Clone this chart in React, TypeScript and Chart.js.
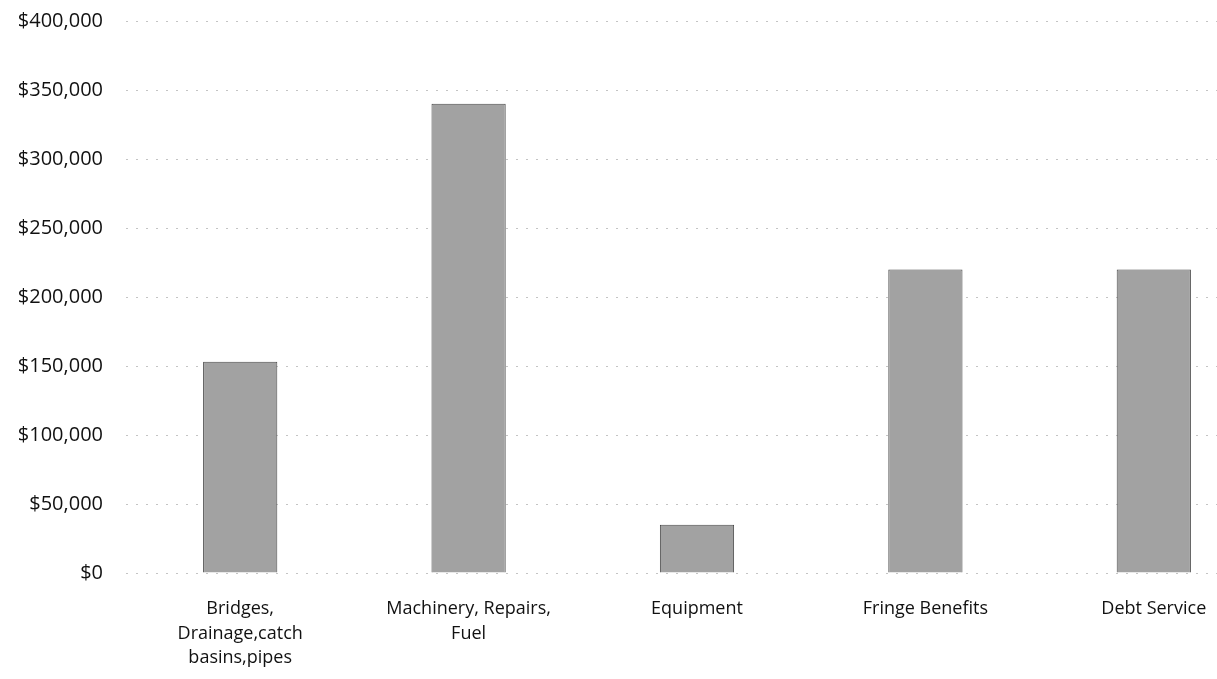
import React, { useEffect, useRef } from "react";
import { Chart, registerables } from "chart.js";

Chart.register(...registerables);

const categories: (string | string[])[] = [
  ["Bridges,", "Drainage,catch", "basins,pipes"],
  ["Machinery, Repairs,", "Fuel"],
  "Equipment",
  "Fringe Benefits",
  "Debt Service",
];

const amounts: number[] = [153000, 340000, 35000, 220000, 220000];

const yMin = 0;
const yMax = 400000;
const yStep = 50000;

export default function App() {
  const ref = useRef<HTMLCanvasElement | null>(null);

  useEffect(() => {
    if (!ref.current) return;
    const chart = new Chart(ref.current, {
      type: "bar",
      data: {
        labels: categories,
        datasets: [
          {
            data: amounts,
            backgroundColor: "#a2a2a2",
            borderColor: "#4a4a4a",
            borderWidth: 1,
            barPercentage: 0.325,
            categoryPercentage: 1,
          },
        ],
      },
      options: {
        responsive: false,
        animation: false,
        layout: { padding: { top: 7, right: 32, left: 0, bottom: 0 } },
        plugins: { legend: { display: false }, tooltip: { enabled: false } },
        scales: {
          x: {
            border: { display: false },
            grid: { display: false, drawTicks: false },
            ticks: {
              color: "#111",
              padding: 24,
              maxRotation: 0,
              autoSkip: false,
              font: { family: "Open Sans", size: 18, lineHeight: 24.5 / 18 },
            },
            afterFit: (s: any) => {
              s.height = 106;
            },
          },
          y: {
            min: yMin,
            max: yMax,
            border: { display: false, dash: [2, 8] },
            grid: {
              color: "#c4c4c4",
              lineWidth: 1,
              drawTicks: false,
            },
            ticks: {
              stepSize: yStep,
              color: "#111",
              padding: 23,
              font: { family: "Open Sans", size: 20 },
              callback: (v: any) => "$" + Number(v).toLocaleString("en-US"),
            },
            afterFit: (s: any) => {
              s.width = 126;
            },
          },
        },
      },
    });
    return () => chart.destroy();
  }, []);

  return (
    <div
      style={{
        position: "fixed",
        left: 0,
        top: 0,
        width: 1217,
        height: 679,
        overflow: "hidden",
        background: "#fff",
      }}
    >
      <canvas
        ref={ref}
        width={1300}
        height={693}
        style={{ display: "block", marginTop: -14 }}
      />
    </div>
  );
}
